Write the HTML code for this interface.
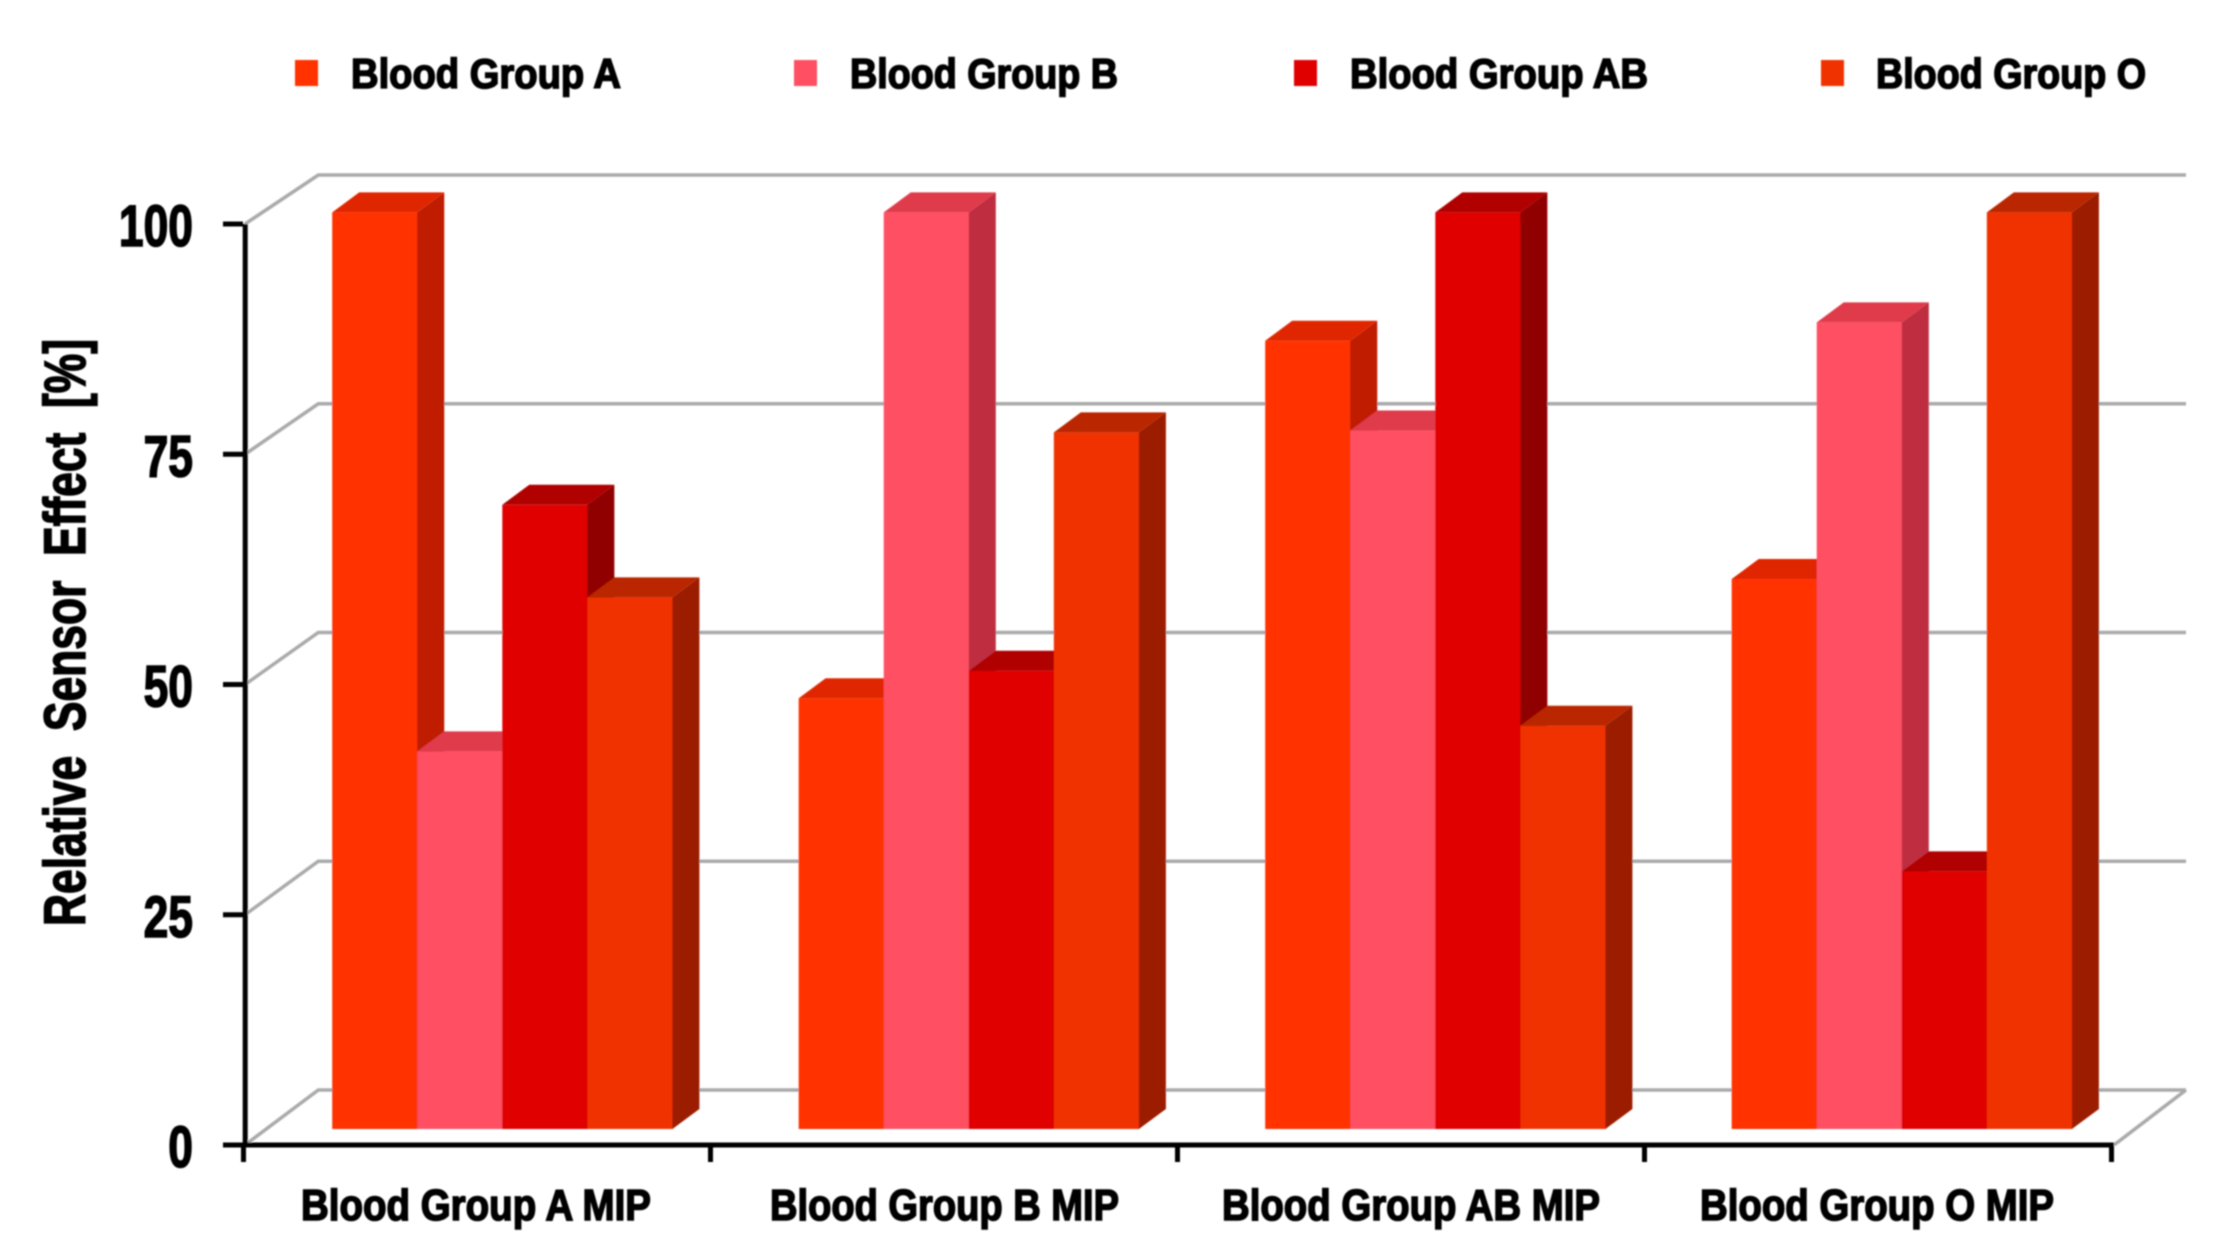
<!DOCTYPE html>
<html lang="en">
<head>
<meta charset="utf-8">
<title>Relative Sensor Effect by Blood Group MIP</title>
<style>
  html, body { margin: 0; padding: 0; background: #fff; }
  svg { display: block; }
  text { font-family: "Liberation Sans", Arial, sans-serif; font-weight: bold; fill: #000; stroke: #000; stroke-width: 1.6px; white-space: pre; }
</style>
</head>
<body>
<svg id="chart" xmlns="http://www.w3.org/2000/svg" width="2235" height="1259" viewBox="0 0 2235 1259">
  <defs><filter id="soft" x="-2%" y="-2%" width="104%" height="104%"><feGaussianBlur stdDeviation="0.9"/></filter></defs>
  <rect width="2235" height="1259" fill="#fff"/>
  <g id="plot" filter="url(#soft)">
    <g id="grid"></g>
    <g id="bars"></g>
    <g id="axes"></g>
    <g id="ylabels"></g>
    <g>
      <g>
        <rect x="295" y="60" width="23" height="26" fill="#ff3300"/>
        <text x="351" y="88" font-size="42" textLength="270" lengthAdjust="spacingAndGlyphs">Blood Group A</text>
      </g>
      <g>
        <rect x="794" y="60" width="23" height="26" fill="#ff5064"/>
        <text x="850" y="88" font-size="42" textLength="268" lengthAdjust="spacingAndGlyphs">Blood Group B</text>
      </g>
      <g>
        <rect x="1294" y="60" width="23" height="26" fill="#e00000"/>
        <text x="1350" y="88" font-size="42" textLength="298" lengthAdjust="spacingAndGlyphs">Blood Group AB</text>
      </g>
      <g>
        <rect x="1821" y="60" width="23" height="26" fill="#f03000"/>
        <text x="1876" y="88" font-size="42" textLength="270" lengthAdjust="spacingAndGlyphs">Blood Group O</text>
      </g>
    </g>
    <text transform="translate(85,926) rotate(-90)" font-size="58" textLength="587" lengthAdjust="spacingAndGlyphs">Relative  Sensor  Effect  [%]</text>
    <g>
      <text x="301" y="1220" font-size="44" textLength="350" lengthAdjust="spacingAndGlyphs">Blood Group A MIP</text>
      <text x="770" y="1220" font-size="44" textLength="349" lengthAdjust="spacingAndGlyphs">Blood Group B MIP</text>
      <text x="1222" y="1220" font-size="44" textLength="378" lengthAdjust="spacingAndGlyphs">Blood Group AB MIP</text>
      <text x="1700" y="1220" font-size="44" textLength="354" lengthAdjust="spacingAndGlyphs">Blood Group O MIP</text>
    </g>
  </g>
</svg>
<script>
const categoryKeys = ["a-mip", "b-mip", "ab-mip", "o-mip"];
const seriesKeys = ["a", "b", "ab", "o"];
const seriesA = [100, 47, 86, 60];
const seriesB = [41.2, 100, 76.2, 88];
const seriesAB = [68.1, 50, 100, 28.1];
const seriesO = [58, 76, 44, 100];
const yTicks = [0, 25, 50, 75, 100];

const allSeries = [seriesA, seriesB, seriesAB, seriesO];
const faceColors = ["#ff3300", "#ff5064", "#e00000", "#f03000"];
const sideColors = ["#bf1f00", "#bf2f3f", "#900000", "#9c1c00"];
const topColors = ["#e02800", "#e03a4c", "#b00000", "#b92500"];

const NS = "http://www.w3.org/2000/svg";
const depthX = 27, depthY = 20, barWidth = 85.05;
const yFront = v => 1145 - v * 9.21;
const yBack = v => 1090 - v * 9.15;
const yBar = v => 1129 - v * 9.166;
const xGroup = i => 332.2 + i * 466.5;
const xBar = (i, s) => xGroup(i) + s * barWidth;

function make(tag, parent, attrs) {
  const el = document.createElementNS(NS, tag);
  for (const k in attrs) el.setAttribute(k, attrs[k]);
  parent.appendChild(el);
  return el;
}

const grid = document.getElementById("grid");
const axes = document.getElementById("axes");
const ylabels = document.getElementById("ylabels");
const bars = document.getElementById("bars");

yTicks.forEach(t => {
  const line = make("polyline", grid, {
    points: `245,${yFront(t)} 318.3,${yBack(t)} 2186,${yBack(t)}`,
    fill: "none", stroke: "#aaaaaa", "stroke-width": 3.5
  });
  
  

  const tick = make("rect", axes, { x: 223, y: yFront(t) - 2.5, width: 20, height: 5, fill: "#000" });
  
  

  const label = make("text", ylabels, {
    x: 193, y: yFront(t) + 22, "font-size": 58, "text-anchor": "end",
    textLength: String(t).length * 24.7, lengthAdjust: "spacingAndGlyphs"
  });
  label.textContent = t;
  
  
});

const floorEdge = make("line", grid, { x1: 2114, y1: yFront(0), x2: 2186, y2: yBack(0), stroke: "#aaaaaa", "stroke-width": 3.5 });



categoryKeys.forEach((cat, i) => {
  allSeries.forEach((values, s) => {
    const v = values[i];
    const x0 = xBar(i, s), x1 = x0 + barWidth;
    const yT = yBar(v), yB = yBar(0);
    const g = make("g", bars, {});
    
    
    const face = make("rect", g, { x: x0, y: yT, width: barWidth + 0.5, height: yB - yT, fill: faceColors[s] });
    
    
    const side = make("polygon", g, {
      points: `${x1},${yT} ${x1 + depthX},${yT - depthY} ${x1 + depthX},${yB - depthY} ${x1},${yB}`,
      fill: sideColors[s]
    });
    
    
    const top = make("polygon", g, {
      points: `${x0},${yT} ${x0 + depthX},${yT - depthY} ${x1 + depthX},${yT - depthY} ${x1},${yT}`,
      fill: topColors[s]
    });
    
    
  });
});

const yAxis = make("line", axes, { x1: 245.2, y1: yFront(100), x2: 245.2, y2: yFront(0) + 2, stroke: "#000", "stroke-width": 5 });


const xAxis = make("line", axes, { x1: 241, y1: yFront(0), x2: 2114, y2: yFront(0), stroke: "#000", "stroke-width": 5 });



[0, 1, 2, 3, 4].forEach(i => {
  const xt = 243.5 + i * 467;
  const tick = make("rect", axes, { x: xt - 2.5, y: yFront(0), width: 5, height: 17, fill: "#000" });
  
  
});
</script>
</body>
</html>
